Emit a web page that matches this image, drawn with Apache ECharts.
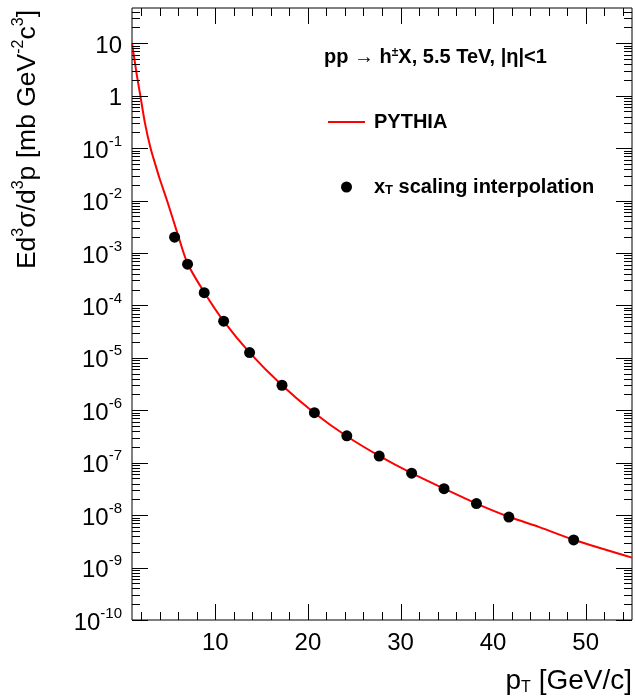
<!DOCTYPE html>
<html><head><meta charset="utf-8">
<script src="https://cdn.jsdelivr.net/npm/echarts@6/dist/echarts.min.js"></script>
<style>html,body{margin:0;padding:0;background:#fff}#c{width:635px;height:698px}</style>
</head><body><div id="c"></div>
<script>
// ---- data ----
const curvePt  = [1.0, 1.5, 1.9, 2.4, 3.0, 3.5, 4.0, 4.8, 6.0, 7.0, 8.8, 10.9, 13.7, 17.2, 20.7, 24.2, 27.7, 31.2, 34.7, 38.2, 41.7, 45.0, 48.7, 55.0];
const curveVal = [10, 2.6, 1.0, 0.30, 0.10, 0.050, 0.0257, 0.0098, 2.1e-3, 6.3e-4, 1.78e-4, 5.0e-5, 1.26e-5, 3.0e-6, 8.9e-7, 3.2e-7, 1.35e-7, 6.3e-8, 3.2e-8, 1.66e-8, 9.3e-9, 5.9e-9, 3.4e-9, 1.55e-9];
const pointPt  = [5.6, 7.0, 8.8, 10.9, 13.7, 17.2, 20.7, 24.2, 27.7, 31.2, 34.7, 38.2, 41.7, 48.7];
const pointVal = [2.0e-3, 6.1e-4, 1.75e-4, 5.0e-5, 1.26e-5, 3.0e-6, 9.0e-7, 3.25e-7, 1.34e-7, 6.3e-8, 3.2e-8, 1.66e-8, 9.2e-9, 3.36e-9];

// ---- axes / ticks ----
const X_MIN = 1, X_MAX = 55;
const Y_MIN = 1e-10, Y_MAX = 47;
const xMajorTicks = [10, 20, 30, 40, 50];
const xMinorTicks = [2, 4, 6, 8, 12, 14, 16, 18, 22, 24, 26, 28, 32, 34, 36, 38, 42, 44, 46, 48, 52, 54];
const yMajorTicks = [1e-10, 1e-9, 1e-8, 1e-7, 1e-6, 1e-5, 1e-4, 1e-3, 1e-2, 1e-1, 1, 10];
const yTickLabels = ['10{s|-10}', '10{s|-9}', '10{s|-8}', '10{s|-7}', '10{s|-6}', '10{s|-5}', '10{s|-4}', '10{s|-3}', '10{s|-2}', '10{s|-1}', '1', '10'];
const yMinorMantissas = [2, 3, 4, 5, 6, 7, 8, 9];

const FONT = '"Liberation Sans", Arial, Helvetica, sans-serif';
const MAJOR_LEN = 16, MINOR_LEN = 8;

const yMinorTicks = [];
yMajorTicks.forEach(d => yMinorMantissas.forEach(m => { const v = m * d; if (v < Y_MAX) yMinorTicks.push(v); }));

const yTickData = yMajorTicks.map(v => [X_MIN, v, MAJOR_LEN]).concat(yMinorTicks.map(v => [X_MIN, v, MINOR_LEN]));
const xTickData = xMajorTicks.map(v => [v, Y_MIN, MAJOR_LEN]).concat(xMinorTicks.map(v => [v, Y_MIN, MINOR_LEN]));

function tl(x1, y1, x2, y2) {
  return { type: 'line', shape: { x1, y1, x2, y2 }, style: { stroke: '#000', lineWidth: 1 }, silent: true };
}

const chart = echarts.init(document.getElementById('c'), null, { renderer: 'canvas' });
chart.setOption({
  animation: false,
  backgroundColor: '#fff',
  grid: { left: 132, right: 3, top: 8, bottom: 78, show: true, borderColor: '#000', borderWidth: 1, backgroundColor: 'transparent' },
  title: {
    text: 'pp → h{sup|±}X, 5.5 TeV, |η|<1',
    left: 324, top: 47, padding: 0,
    textStyle: { fontSize: 20, fontWeight: 'bold', color: '#000', fontFamily: FONT,
      rich: { sup: { fontSize: 12, fontWeight: 'bold', color: '#000', fontFamily: FONT, verticalAlign: 'top', lineHeight: 12 } } }
  },
  legend: {
    orient: 'vertical', left: 327, top: 112, padding: 0, itemWidth: 37, itemHeight: 11, itemGap: 45,
    selectedMode: false,
    data: [{ name: 'PYTHIA', itemStyle: { opacity: 0 } }, { name: 'xT', icon: 'circle' }],
    formatter: n => n === 'PYTHIA' ? 'PYTHIA' : 'x{sub|T} scaling interpolation',
    textStyle: { fontSize: 20, fontWeight: 'bold', color: '#000', fontFamily: FONT, padding: [0, 0, 0, 4],
      rich: { sub: { fontSize: 13, fontWeight: 'bold', color: '#000', fontFamily: FONT, verticalAlign: 'bottom', lineHeight: 13 } } }
  },
  xAxis: {
    type: 'value', min: X_MIN, max: X_MAX,
    axisLine: { show: false }, axisTick: { show: false }, splitLine: { show: false },
    axisLabel: { customValues: xMajorTicks, fontSize: 24, color: '#000', fontFamily: FONT, margin: 11 }
  },
  yAxis: {
    type: 'log', logBase: 10, min: Y_MIN, max: Y_MAX,
    axisLine: { show: false }, axisTick: { show: false }, splitLine: { show: false },
    axisLabel: { show: false }, minorTick: { show: false }
  },
  graphic: [
    { type: 'text', x: 28, y: 10, rotation: Math.PI / 2,
      style: { text: 'Ed{sup|3}σ/d{sup|3}p [mb GeV{sup|-2}c{sup|3}]', fill: '#000', fontSize: 26.5, fontFamily: FONT,
        align: 'right', verticalAlign: 'middle', lineHeight: 34,
        rich: { sup: { fontSize: 16, lineHeight: 16, verticalAlign: 'top', fontFamily: FONT, fill: '#000' } } } },
    { type: 'text', x: 632, y: 681,
      style: { text: 'p{sub|T} [GeV/c]', fill: '#000', fontSize: 28, fontFamily: FONT,
        align: 'right', verticalAlign: 'middle', lineHeight: 30,
        rich: { sub: { fontSize: 16, lineHeight: 16, verticalAlign: 'bottom', fontFamily: FONT, fill: '#000' } } } }
  ],
  series: [
    { name: 'PYTHIA', type: 'line', data: curvePt.map((x, i) => [x, curveVal[i]]),
      symbol: 'none', smooth: 0.3, lineStyle: { color: '#ff0000', width: 2 }, itemStyle: { color: '#ff0000' }, z: 3 },
    { name: 'xT', type: 'scatter', data: pointPt.map((x, i) => [x, pointVal[i]]),
      symbol: 'circle', symbolSize: 11, itemStyle: { color: '#000', opacity: 1 }, z: 4 },
    { type: 'custom', name: 'yTicks', silent: true, clip: false, z: 5, data: yTickData, encode: { x: 0, y: 1 },
      renderItem: (params, api) => {
        const cs = params.coordSys;
        const y = Math.round(api.coord([api.value(0), api.value(1)])[1]) + 0.5;
        const len = api.value(2);
        return { type: 'group', children: [tl(cs.x, y, cs.x + len, y), tl(cs.x + cs.width, y, cs.x + cs.width - len, y)] };
      } },
    { type: 'custom', name: 'xTicks', silent: true, clip: false, z: 5, data: xTickData, encode: { x: 0, y: 1 },
      renderItem: (params, api) => {
        const cs = params.coordSys;
        const x = Math.round(api.coord([api.value(0), api.value(1)])[0]) + 0.5;
        const len = api.value(2);
        return { type: 'group', children: [tl(x, cs.y + cs.height, x, cs.y + cs.height - len), tl(x, cs.y, x, cs.y + len)] };
      } },
    { type: 'custom', name: 'yLabels', silent: true, clip: false, z: 5,
      data: yMajorTicks.map((v, i) => [X_MIN, v, i]), encode: { x: 0, y: 1 },
      renderItem: (params, api) => {
        const cs = params.coordSys;
        const y = api.coord([api.value(0), api.value(1)])[1];
        return { type: 'text', x: cs.x - 10, y: y + 3,
          style: { text: yTickLabels[api.value(2)], fill: '#000', fontSize: 24, fontFamily: FONT,
            align: 'right', verticalAlign: 'middle', lineHeight: 34,
            rich: { s: { fontSize: 15, lineHeight: 15, verticalAlign: 'top', fontFamily: FONT, fill: '#000' } } } };
      } }
  ]
});
</script></body></html>
